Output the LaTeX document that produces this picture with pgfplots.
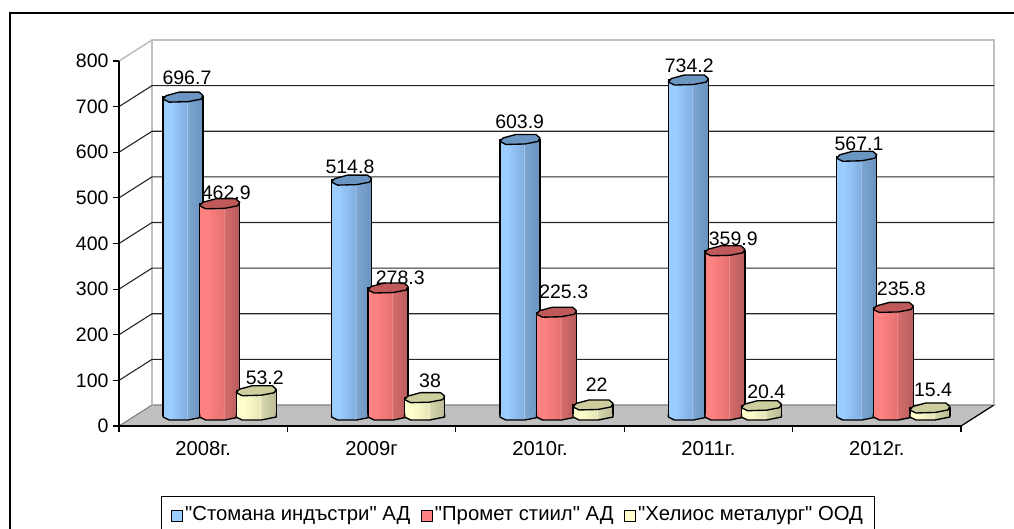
\documentclass[border=0pt]{standalone}
\usepackage{fontspec}
\setmainfont{Liberation Sans}[Ligatures=TeXOff]
\usepackage{pgfplots}
\pgfplotsset{compat=1.18}

% colours of the three series: light side, mid, highlight, start of dark side, dark side, cap
\definecolor{blueA}{HTML}{9CCDFF}\definecolor{blueB}{HTML}{82AFE2}\definecolor{blueC}{HTML}{A8C8EA}\definecolor{blueE}{HTML}{7CA5D2}\definecolor{blueD}{HTML}{6A92BE}\definecolor{blueT}{HTML}{6C96C2}
\definecolor{redA}{HTML}{FF8282}\definecolor{redB}{HTML}{E47272}\definecolor{redC}{HTML}{F09090}\definecolor{redE}{HTML}{D46C6C}\definecolor{redD}{HTML}{B85C5C}\definecolor{redT}{HTML}{C05A5A}
\definecolor{yelA}{HTML}{FFFFCE}\definecolor{yelB}{HTML}{E6E6B8}\definecolor{yelC}{HTML}{F4F4D4}\definecolor{yelE}{HTML}{D8D8AE}\definecolor{yelD}{HTML}{BABA94}\definecolor{yelT}{HTML}{CDCD9E}
\definecolor{floorgray}{HTML}{C0C0C0}

\newcommand{\barshading}[2]{%
  \pgfdeclarehorizontalshading{#1}{100bp}{color(0bp)=(#2A); color(34bp)=(#2A); color(54bp)=(#2B); color(55bp)=(#2C); color(56bp)=(#2E); color(75bp)=(#2D); color(100bp)=(#2D)}}
\barshading{shblue}{blue}
\barshading{shred}{red}
\barshading{shyel}{yel}

% top of a cylinder
\pgfdeclareplotmark{captop}{%
  \pgfsetroundjoin
  \pgfsetcornersarced{\pgfqpoint{1.5pt}{1.5pt}}%
  \pgfpathmoveto{\pgfqpoint{-20pt}{-2pt}}%
  \pgfpathlineto{\pgfqpoint{-17pt}{1.5pt}}%
  \pgfpathlineto{\pgfqpoint{-4pt}{5pt}}%
  \pgfpathlineto{\pgfqpoint{16pt}{5pt}}%
  \pgfpathlineto{\pgfqpoint{20pt}{1.5pt}}%
  \pgfpathlineto{\pgfqpoint{18pt}{-2pt}}%
  \pgfpathlineto{\pgfqpoint{5pt}{-4.5pt}}%
  \pgfpathlineto{\pgfqpoint{-14pt}{-5pt}}%
  \pgfpathclose
  \pgfusepathqfillstroke}

% front edge of the foot of a cylinder
\newcommand{\footpath}{%
  \pgfpathmoveto{\pgfqpoint{-20pt}{1pt}}%
  \pgfpathlineto{\pgfqpoint{-20pt}{-2pt}}%
  \pgfpathlineto{\pgfqpoint{-14pt}{-5pt}}%
  \pgfpathlineto{\pgfqpoint{5pt}{-5pt}}%
  \pgfpathlineto{\pgfqpoint{20pt}{-2pt}}%
  \pgfpathlineto{\pgfqpoint{20pt}{1pt}}}
\newcommand{\footmark}[2]{%
  \pgfdeclareplotmark{#1}{\footpath\pgfshadepath{#2}{0}\pgfusepath{discard}}}
\footmark{footblue}{shblue}
\footmark{footred}{shred}
\footmark{footyel}{shyel}
\pgfdeclareplotmark{footline}{\pgfsetroundjoin\footpath\pgfusepathqstroke}

\newcommand{\lbl}{\fontsize{19.5}{22}\selectfont}

% one cylinder: series, x, value, label shift right, label shift up
\newcommand{\cyl}[5]{%
  \addplot[forget plot,ybar,bar width=40pt,bar shift=0pt,draw=none,shade,shading=sh#1] coordinates {(#2,#3)};
  \addplot[forget plot,ybar,bar width=40pt,bar shift=0pt,draw=black,fill=none,line width=1.35pt] coordinates {(#2,#3)};
  \addplot[forget plot,only marks,mark=foot#1] coordinates {(#2,0)};
  \addplot[forget plot,only marks,mark=footline,mark options={draw=black,line width=1.35pt}] coordinates {(#2,0)};
  \addplot[forget plot,only marks,mark=captop,mark options={draw=black,fill=#1T,line width=1.35pt},
    nodes near coords,point meta=y,
    every node near coord/.style={font=\lbl,black,anchor=center,xshift=#4pt,yshift=#5pt,
      /pgf/number format/.cd,fixed,precision=1,assume math mode=true}] coordinates {(#2,#3)};
}

\begin{document}
\begin{tikzpicture}
\path[use as bounding box] (0pt,0pt) rectangle (1014pt,528pt);
\draw[line width=1.6pt] (10pt,-5pt) -- (10pt,515pt) -- (1020pt,515pt);

% walls, floor and axes
\begin{axis}[
  at={(119pt,102pt)},anchor=south west,
  scale only axis,width=842pt,height=365pt,
  xmin=0,xmax=5,ymin=0,ymax=800,
  clip=false,axis on top,
  axis x line*=bottom,axis y line*=left,
  axis line style={-,line width=1.2pt},
  xtick={0,1,2,3,4,5},
  x tick label as interval=true,
  xticklabels={2008г.,2009г,2010г.,2011г.,2012г.},
  ytick={0,100,200,300,400,500,600,700,800},
  tick align=outside,major tick length=6pt,
  tick style={black,line width=1.2pt},
  tick label style={font=\lbl},
  /pgf/number format/assume math mode=true,
  xticklabel style={yshift=-6pt,font=\fontsize{20.2}{22}\selectfont},
  yticklabel style={xshift=-1pt},
]
\addplot[fill=floorgray,draw=gray,line width=1.1pt,forget plot] coordinates {(0,0) (0.196,46) (5.196,46) (5,0) (0,0)};
\addplot[black,line width=1.1pt,forget plot] coordinates {(5,0) (5.196,46)};
\addplot[floorgray,line width=1.6pt,forget plot] coordinates {(0,800) (0.196,846) (5.196,846) (5.196,46)};
\addplot[floorgray,line width=1.6pt,forget plot] coordinates {(0.196,846) (0.196,46)};
\addplot[black!85,line width=1.1pt,forget plot] coordinates {(0,100) (0.196,146) (5.196,146)};
\addplot[black!85,line width=1.1pt,forget plot] coordinates {(0,200) (0.196,246) (5.196,246)};
\addplot[black!85,line width=1.1pt,forget plot] coordinates {(0,300) (0.196,346) (5.196,346)};
\addplot[black!85,line width=1.1pt,forget plot] coordinates {(0,400) (0.196,446) (5.196,446)};
\addplot[black!85,line width=1.1pt,forget plot] coordinates {(0,500) (0.196,546) (5.196,546)};
\addplot[black!85,line width=1.1pt,forget plot] coordinates {(0,600) (0.196,646) (5.196,646)};
\addplot[black!85,line width=1.1pt,forget plot] coordinates {(0,700) (0.196,746) (5.196,746)};
\end{axis}

% cylinders stand half way back on the floor
\begin{axis}[
  at={(135.5pt,113pt)},anchor=south west,
  scale only axis,width=842pt,height=365pt,
  xmin=0,xmax=5,ymin=0,ymax=800,
  clip=false,hide axis,
  legend columns=-1,
  legend style={at={(0.4543,-0.2219)},anchor=north,draw=black,line width=1.2pt,
    font=\fontsize{20.3}{22}\selectfont,inner xsep=9.5pt,inner ysep=4pt,
    nodes={text height=18pt,text depth=8pt,inner ysep=2pt,inner xsep=2pt},
    /tikz/every even column/.append style={column sep=8.5pt}},
  legend cell align=left,
  legend entries={"Стомана индъстри" АД,"Промет стиил" АД,"Хелиос металург" ООД},
]
\addlegendimage{legend image code/.code={\draw[fill=blueA,draw=black,line width=1.1pt] (0pt,-5.5pt) rectangle (11pt,5.5pt);}}
\addlegendimage{legend image code/.code={\draw[fill=redA,draw=black,line width=1.1pt] (0pt,-5.5pt) rectangle (11pt,5.5pt);}}
\addlegendimage{legend image code/.code={\draw[fill=yelA,draw=black,line width=1.1pt] (0pt,-5.5pt) rectangle (11pt,5.5pt);}}

\cyl{blue}{0.283}{696.7}{3.8}{19.4}
\cyl{red}{0.500}{462.9}{6.6}{11.1}
\cyl{yel}{0.717}{53.2}{8.5}{13}

\cyl{blue}{1.283}{514.8}{-1.6}{13.4}
\cyl{red}{1.500}{278.3}{12.2}{10}
\cyl{yel}{1.717}{38}{5.4}{17}

\cyl{blue}{2.283}{603.9}{-0.3}{17.8}
\cyl{red}{2.500}{225.3}{7.2}{20.5}
\cyl{yel}{2.717}{22}{3.7}{20.3}

\cyl{blue}{3.283}{734.2}{0.9}{14.3}
\cyl{red}{3.500}{359.9}{8.4}{11.8}
\cyl{yel}{3.717}{20.4}{4.9}{14.4}

\cyl{blue}{4.283}{567.1}{2.2}{12.3}
\cyl{red}{4.500}{235.8}{8}{19.1}
\cyl{yel}{4.717}{15.4}{3.2}{18}
\end{axis}
\end{tikzpicture}
\end{document}
